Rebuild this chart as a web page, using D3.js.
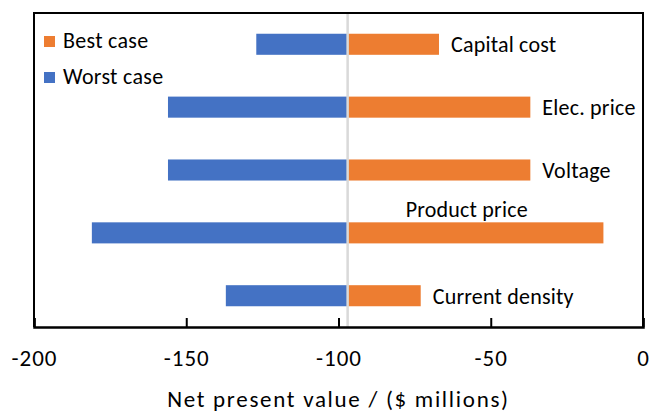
<!DOCTYPE html>
<html>
<head>
<meta charset="utf-8">
<script src="https://cdnjs.cloudflare.com/ajax/libs/d3/7.8.5/d3.min.js"></script>
<style>
  body { margin: 0; background: #fff; }
  text { font-family: Carlito, Calibri, Lato, sans-serif; fill: #000; }
</style>
</head>
<body>
<div id="chart"></div>
<script>
// data
var categories = ["Capital cost", "Elec. price", "Voltage", "Product price", "Current density"];
var worstCase = [-127, -156, -156, -181, -137];
var bestCase = [-67, -37, -37, -13, -73];
var baseValue = -97;
var xTicks = [-200, -150, -100, -50, 0];
var legendNames = ["Best case", "Worst case"];

var svgWidth = 654;
var svgHeight = 412;

var margin = { top: 13, right: 11, bottom: 85, left: 34 };
var width = svgWidth - margin.left - margin.right;
var height = svgHeight - margin.top - margin.bottom;

var blue = "#4472C4";
var orange = "#ED7D31";

var svg = d3.select("#chart")
    .append("svg")
    .attr("width", svgWidth)
    .attr("height", svgHeight);

var chartGroup = svg.append("g").attr("transform", `translate(${margin.left}, ${margin.top})`);

// scales
var xScale = d3.scaleLinear().domain([-200, 0]).range([0, width]);
var yScale = d3.scaleBand().domain(categories).range([0, height]).paddingInner(0.665).paddingOuter(0.33);

var rows = categories.map(function(c, i) {
    return { name: c, worst: worstCase[i], best: bestCase[i] };
});

// worst case bars (left of base)
chartGroup.selectAll(".worst")
    .data(rows)
    .enter()
    .append("rect")
    .attr("class", "worst")
    .attr("x", d => xScale(d.worst))
    .attr("y", d => yScale(d.name))
    .attr("width", d => xScale(baseValue) - xScale(d.worst))
    .attr("height", yScale.bandwidth())
    .attr("fill", blue);

// best case bars (right of base)
chartGroup.selectAll(".best")
    .data(rows)
    .enter()
    .append("rect")
    .attr("class", "best")
    .attr("x", xScale(baseValue))
    .attr("y", d => yScale(d.name))
    .attr("width", d => xScale(d.best) - xScale(baseValue))
    .attr("height", yScale.bandwidth())
    .attr("fill", orange);

// base line
chartGroup.append("line")
    .attr("x1", xScale(baseValue))
    .attr("x2", xScale(baseValue))
    .attr("y1", 0)
    .attr("y2", height)
    .attr("stroke", "#D9D9D9")
    .attr("stroke-width", 2.5);

// frame
chartGroup.append("path")
    .attr("d", `M0,${height}V0H${width}V${height}`)
    .attr("fill", "none")
    .attr("stroke", "#000")
    .attr("stroke-width", 2);

// x axis, ticks point inward
var bottomAxis = d3.axisBottom(xScale)
    .tickValues(xTicks)
    .tickSize(-9)
    .tickPadding(23)
    .tickFormat(d3.format("d"));

var xAxis = chartGroup.append("g")
    .attr("transform", `translate(0, ${height})`)
    .call(bottomAxis);

xAxis.select(".domain").attr("stroke", "#000").attr("stroke-width", 2.5);
xAxis.selectAll(".tick line").attr("stroke", "#000").attr("stroke-width", 2);
xAxis.selectAll(".tick text")
    .attr("font-family", "Carlito, Calibri, Lato, sans-serif")
    .attr("font-size", 23)
    .attr("letter-spacing", 1)
    .attr("fill", "#000")
    .text(d => String(d).replace("\u2212", "-"));

// axis title
chartGroup.append("text")
    .attr("x", width / 2)
    .attr("y", height + 80)
    .attr("text-anchor", "middle")
    .attr("font-size", 23)
    .attr("letter-spacing", 1.7)
    .text("Net present value / ($ millions)");

// data labels
chartGroup.selectAll(".barLabel")
    .data(rows)
    .enter()
    .append("text")
    .attr("class", "barLabel")
    .attr("font-size", 22)
    .attr("letter-spacing", 0.2)
    .attr("x", d => d.name === "Product price" ? xScale(baseValue) + 58 : xScale(d.best) + 12)
    .attr("y", function(d) {
        var mid = yScale(d.name) + yScale.bandwidth() / 2;
        return d.name === "Product price" ? yScale(d.name) - 5 : mid + 8;
    })
    .text(d => d.name);

// legend
var legend = chartGroup.selectAll(".legend")
    .data(legendNames)
    .enter()
    .append("g")
    .attr("class", "legend")
    .attr("transform", (d, i) => `translate(10, ${23 + i * 36})`);

legend.append("rect")
    .attr("width", 11)
    .attr("height", 11)
    .attr("fill", (d, i) => i === 0 ? orange : blue);

legend.append("text")
    .attr("x", 19)
    .attr("y", 12)
    .attr("font-size", 22)
    .attr("letter-spacing", 0.3)
    .text(d => d);
</script>
</body>
</html>
